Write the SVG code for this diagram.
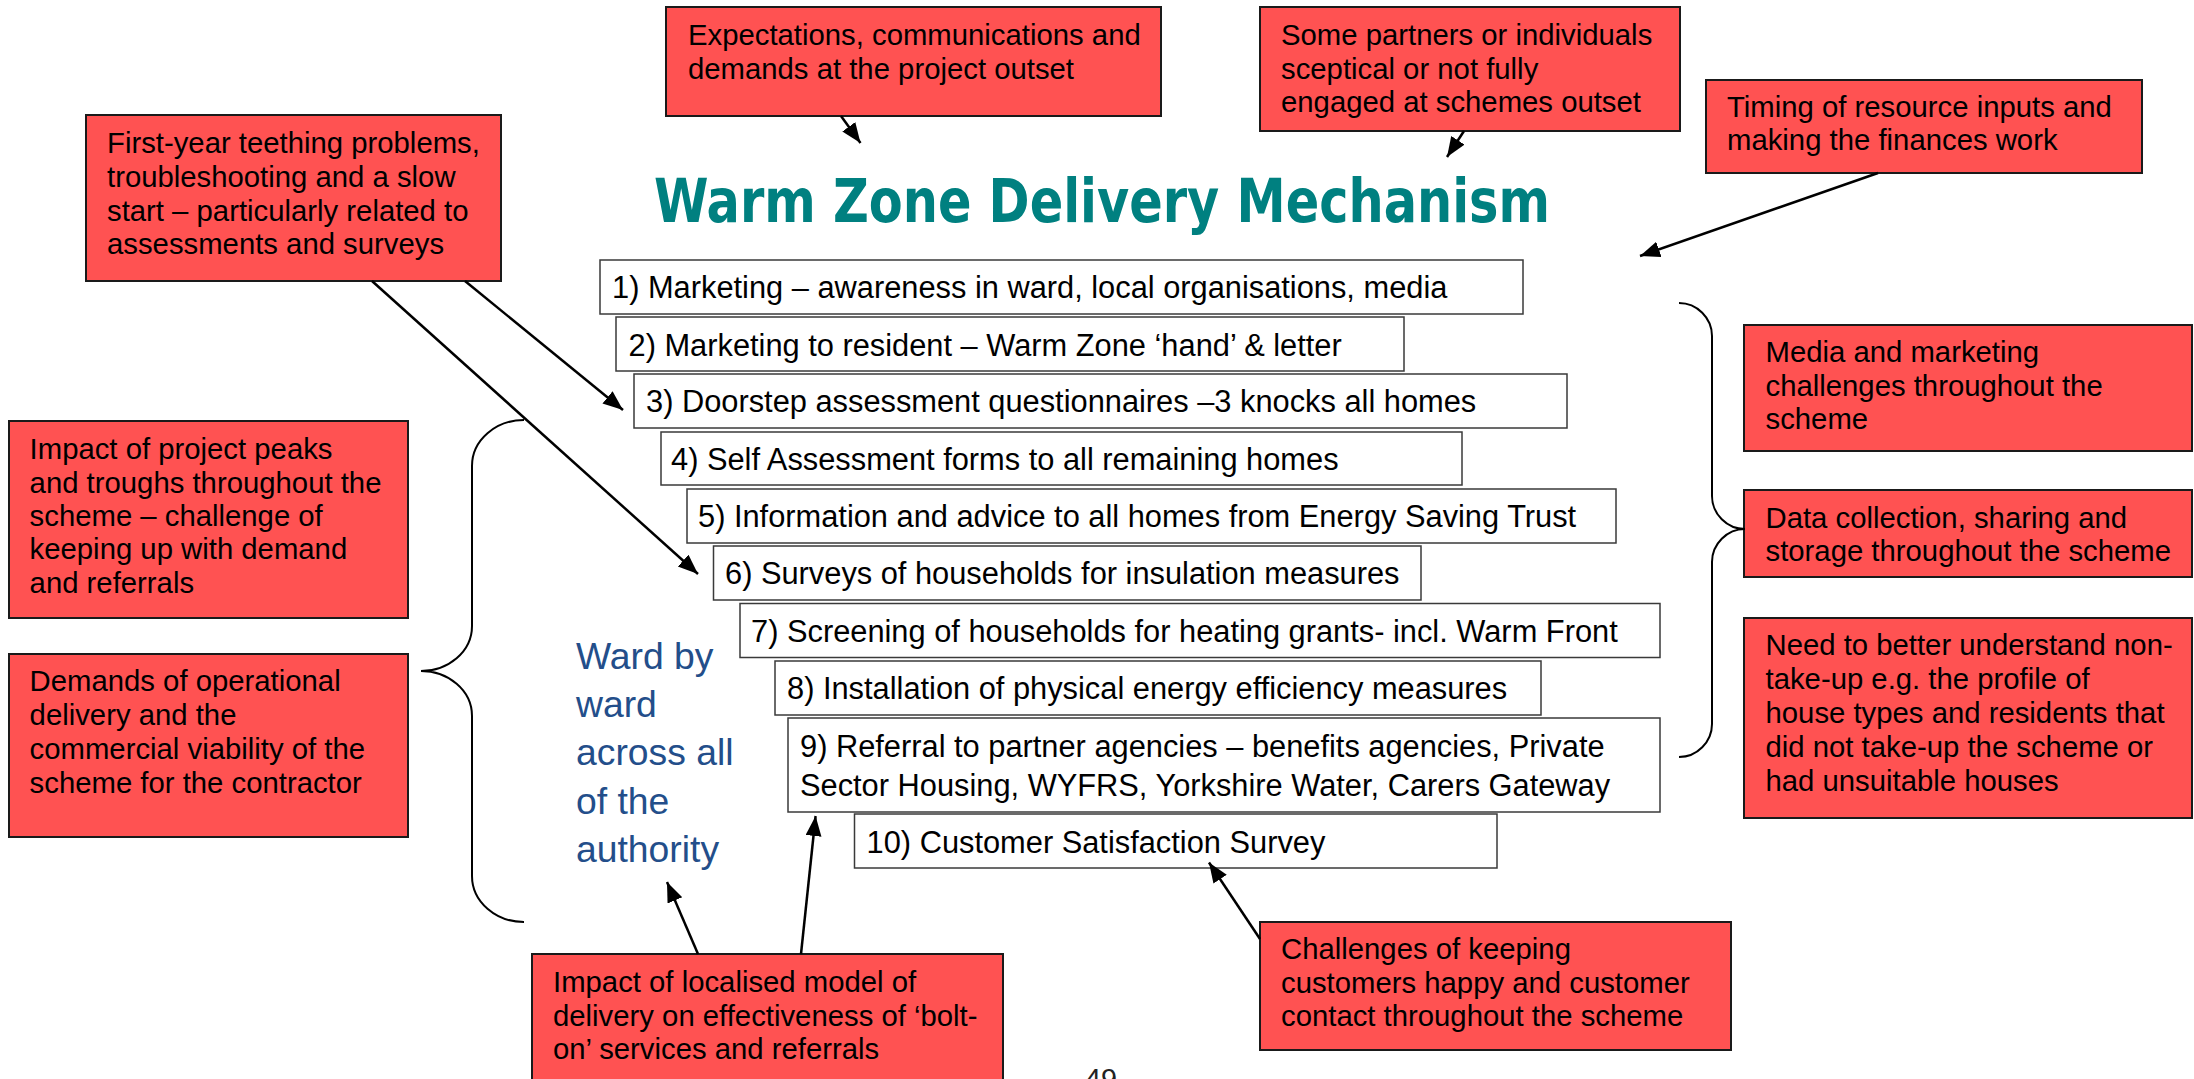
<svg xmlns="http://www.w3.org/2000/svg" width="2194" height="1079" viewBox="0 0 2194 1079">
<style>
.rb{fill:#FF5252;stroke:#1a1a1a;stroke-width:2}
.ib{fill:#fff;stroke:#3a3a3a;stroke-width:1.5}
.t{font-family:"Liberation Sans",Arial,sans-serif;font-size:29.3px;fill:#000}
.it{font-family:"Liberation Sans",Arial,sans-serif;font-size:30.8px;fill:#000}
.ward{font-family:"Liberation Sans",Arial,sans-serif;font-size:37.3px;fill:#234E8A}
.title{font-family:"DejaVu Sans Condensed","DejaVu Sans",sans-serif;font-weight:bold;font-size:60px;fill:#008080}
.conn{stroke:#000;stroke-width:2.5;fill:none}
.brace{stroke:#000;stroke-width:2;fill:none}
</style>
<defs>
<marker id="ah" markerUnits="userSpaceOnUse" markerWidth="22" markerHeight="18" refX="20" refY="8" orient="auto">
<path d="M0,0 L20,8 L0,16 z" fill="#000"/>
</marker>
</defs>
<rect width="2194" height="1079" fill="#fff"/>

<g id="title"><text class="title" x="654" y="222" textLength="896" lengthAdjust="spacingAndGlyphs">Warm Zone Delivery Mechanism</text></g>

<g id="item1"><rect class="ib" x="600" y="260" width="923" height="54"/><text class="it" x="612" y="298">1) Marketing – awareness in ward, local organisations, media</text></g>
<g id="item2"><rect class="ib" x="616" y="317" width="788" height="54"/><text class="it" x="628.5" y="356">2) Marketing to resident – Warm Zone ‘hand’ &amp; letter</text></g>
<g id="item3"><rect class="ib" x="634" y="374" width="933" height="54"/><text class="it" x="646" y="412">3) Doorstep assessment questionnaires –3 knocks all homes</text></g>
<g id="item4"><rect class="ib" x="661" y="432" width="801" height="53"/><text class="it" x="671" y="470">4) Self Assessment forms to all remaining homes</text></g>
<g id="item5"><rect class="ib" x="687" y="489" width="929" height="54"/><text class="it" x="698" y="527">5) Information and advice to all homes from Energy Saving Trust</text></g>
<g id="item6"><rect class="ib" x="713.5" y="546" width="707.5" height="54"/><text class="it" x="725" y="584">6) Surveys of households for insulation measures</text></g>
<g id="item7"><rect class="ib" x="740" y="603.5" width="920" height="54"/><text class="it" x="751" y="642">7) Screening of households for heating grants- incl. Warm Front</text></g>
<g id="item8"><rect class="ib" x="775" y="661" width="766" height="54"/><text class="it" x="787" y="699">8) Installation of physical energy efficiency measures</text></g>
<g id="item9"><rect class="ib" x="788" y="718" width="872" height="94"/><text class="it" x="800" y="756.5">9) Referral to partner agencies – benefits agencies, Private</text><text class="it" x="800" y="796">Sector Housing, WYFRS, Yorkshire Water, Carers Gateway</text></g>
<g id="item10"><rect class="ib" x="854.5" y="814" width="642.5" height="54"/><text class="it" x="866.6" y="852.5">10) Customer Satisfaction Survey</text></g>

<g id="ward"><text class="ward" x="576" y="668.5">Ward by</text><text class="ward" x="576" y="716.5">ward</text><text class="ward" x="576" y="765">across all</text><text class="ward" x="576" y="813.5">of the</text><text class="ward" x="576" y="861.5">authority</text></g>

<g id="firstyear"><rect class="rb" x="86" y="115" width="415" height="166"/>
<text class="t" x="107" y="153">First-year teething problems,</text><text class="t" x="107" y="187">troubleshooting and a slow</text><text class="t" x="107" y="221">start – particularly related to</text><text class="t" x="107" y="254">assessments and surveys</text></g>

<g id="expectations"><rect class="rb" x="666" y="7" width="495" height="109"/>
<text class="t" x="688" y="45">Expectations, communications and</text><text class="t" x="688" y="79">demands at the project outset</text></g>

<g id="partners"><rect class="rb" x="1260" y="7" width="420" height="124"/>
<text class="t" x="1281" y="45">Some partners or individuals</text><text class="t" x="1281" y="79">sceptical or not fully</text><text class="t" x="1281" y="112">engaged at schemes outset</text></g>

<g id="timing"><rect class="rb" x="1706" y="80" width="436" height="93"/>
<text class="t" x="1727" y="117">Timing of resource inputs and</text><text class="t" x="1727" y="150">making the finances work</text></g>

<g id="media"><rect class="rb" x="1744" y="325" width="448" height="126"/>
<text class="t" x="1765.5" y="362">Media and marketing</text><text class="t" x="1765.5" y="396">challenges throughout the</text><text class="t" x="1765.5" y="429">scheme</text></g>

<g id="data"><rect class="rb" x="1744" y="490" width="448" height="87"/>
<text class="t" x="1765.5" y="528">Data collection, sharing and</text><text class="t" x="1765.5" y="561">storage throughout the scheme</text></g>

<g id="nontakeup"><rect class="rb" x="1744" y="618" width="448" height="200"/>
<text class="t" x="1765.5" y="655">Need to better understand non-</text><text class="t" x="1765.5" y="689">take-up e.g. the profile of</text><text class="t" x="1765.5" y="723">house types and residents that</text><text class="t" x="1765.5" y="757">did not take-up the scheme or</text><text class="t" x="1765.5" y="791">had unsuitable houses</text></g>

<g id="challenges"><rect class="rb" x="1260" y="922" width="471" height="128"/>
<text class="t" x="1281" y="959">Challenges of keeping</text><text class="t" x="1281" y="993">customers happy and customer</text><text class="t" x="1281" y="1026">contact throughout the scheme</text></g>

<g id="localised"><rect class="rb" x="532" y="954" width="471" height="140"/>
<text class="t" x="553" y="992">Impact of localised model of</text><text class="t" x="553" y="1026">delivery on effectiveness of ‘bolt-</text><text class="t" x="553" y="1059">on’ services and referrals</text></g>

<g id="peaks"><rect class="rb" x="9" y="421" width="399" height="197"/>
<text class="t" x="29.6" y="458.5">Impact of project peaks</text><text class="t" x="29.6" y="493">and troughs throughout the</text><text class="t" x="29.6" y="526">scheme – challenge of</text><text class="t" x="29.6" y="559">keeping up with demand</text><text class="t" x="29.6" y="593">and referrals</text></g>

<g id="demands"><rect class="rb" x="9" y="654" width="399" height="183"/>
<text class="t" x="29.6" y="691">Demands of operational</text><text class="t" x="29.6" y="725">delivery and the</text><text class="t" x="29.6" y="759">commercial viability of the</text><text class="t" x="29.6" y="793">scheme for the contractor</text></g>

<g id="pagenum"><text x="1085" y="1089" style="font-family:'Liberation Sans',Arial,sans-serif;font-size:28.8px;fill:#222">49</text></g>

<g id="connectors">
<path class="brace" d="M524,420 C496,420 472,440 472,466 L472,626 C472,652 448,671 421,671 C448,671 472,690 472,716 L472,876 C472,902 496,922 524,922"/>
<path class="brace" d="M1679,303 C1697,303 1712,318 1712,336 L1712,496 C1712,514 1727,529 1745,529 C1727,529 1712,544 1712,562 L1712,724 C1712,742 1697,757 1679,757"/>
<line class="conn" x1="841" y1="116" x2="860.5" y2="143" marker-end="url(#ah)"/>
<line class="conn" x1="1464" y1="131" x2="1447" y2="157" marker-end="url(#ah)"/>
<line class="conn" x1="1878" y1="173" x2="1640" y2="256" marker-end="url(#ah)"/>
<line class="conn" x1="465" y1="281" x2="623" y2="410" marker-end="url(#ah)"/>
<line class="conn" x1="372" y1="281" x2="698" y2="574" marker-end="url(#ah)"/>
<line class="conn" x1="698" y1="954" x2="667" y2="882" marker-end="url(#ah)"/>
<line class="conn" x1="801" y1="954" x2="815.6" y2="816" marker-end="url(#ah)"/>
<line class="conn" x1="1260" y1="939" x2="1209" y2="862.5" marker-end="url(#ah)"/>
</g>
</svg>
